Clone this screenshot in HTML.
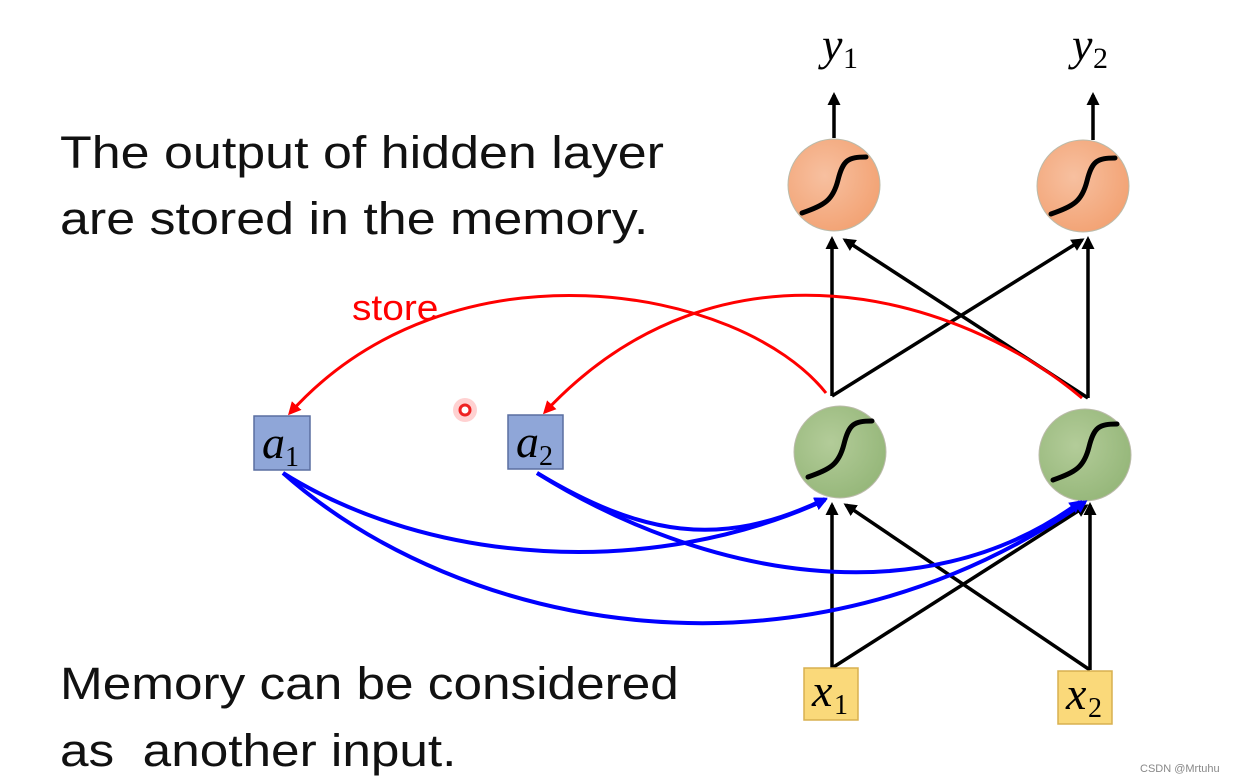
<!DOCTYPE html>
<html><head><style>
html,body{margin:0;padding:0;background:#fff;}
body{width:1234px;height:783px;position:relative;overflow:hidden;font-family:"Liberation Sans",sans-serif;}
.t{position:absolute;font-size:45px;color:#111;white-space:pre;left:60px;transform:scaleX(1.155);transform-origin:0 0;}
.b{transform:scaleX(1.14);}
</style></head><body>
<div class="t" style="top:127px">The output of hidden layer</div>
<div class="t" style="top:193px">are stored in the memory.</div>
<div class="t b" style="top:658px">Memory can be considered</div>
<div class="t b" style="top:725px">as  another input.</div>
<svg width="1234" height="783" style="position:absolute;left:0;top:0">
<defs>
<marker id="ak" markerWidth="13" markerHeight="13" refX="10" refY="6.5" orient="auto" markerUnits="userSpaceOnUse"><path d="M0,0 L13,6.5 L0,13 z" fill="#000"/></marker>
<marker id="ar" markerWidth="13" markerHeight="13" refX="10" refY="6.5" orient="auto" markerUnits="userSpaceOnUse"><path d="M0,0 L13,6.5 L0,13 z" fill="#f00"/></marker>
<marker id="ab" markerWidth="13" markerHeight="13" refX="10" refY="6.5" orient="auto" markerUnits="userSpaceOnUse"><path d="M0,0 L13,6.5 L0,13 z" fill="#00f"/></marker>
<radialGradient id="go" cx="0.4" cy="0.4" r="0.7"><stop offset="0" stop-color="#f7c0a0"/><stop offset="1" stop-color="#f2a070"/></radialGradient>
<radialGradient id="gg" cx="0.4" cy="0.4" r="0.7"><stop offset="0" stop-color="#b3cc99"/><stop offset="1" stop-color="#93b577"/></radialGradient>
</defs>
<text x="822" y="60" font-family="Liberation Serif" font-style="italic" font-size="46">y</text>
<text x="843" y="68" font-family="Liberation Serif" font-size="30">1</text>
<text x="1072" y="60" font-family="Liberation Serif" font-style="italic" font-size="46">y</text>
<text x="1093" y="68" font-family="Liberation Serif" font-size="30">2</text>
<g stroke="#000" stroke-width="3.5" fill="none" marker-end="url(#ak)">
<line x1="834" y1="138" x2="834" y2="95"/>
<line x1="1093" y1="140" x2="1093" y2="95"/>
<line x1="832" y1="396" x2="832" y2="239"/>
<line x1="832" y1="396" x2="1082" y2="240"/>
<line x1="1088" y1="398" x2="1088" y2="239"/>
<line x1="1088" y1="398" x2="845" y2="240"/>
<line x1="832" y1="668" x2="832" y2="505"/>
<line x1="832" y1="668" x2="1086" y2="506"/>
<line x1="1090" y1="670" x2="1090" y2="505"/>
<line x1="1090" y1="670" x2="846" y2="505"/>
</g>
<g stroke="#bba" stroke-width="1">
<circle cx="834" cy="185" r="46" fill="url(#go)"/>
<circle cx="1083" cy="186" r="46" fill="url(#go)"/>
<circle cx="840" cy="452" r="46" fill="url(#gg)"/>
<circle cx="1085" cy="455" r="46" fill="url(#gg)"/>
</g>
<g stroke="#000" stroke-width="5" fill="none" stroke-linecap="round">
<path d="M802,213 C825,205 833,200 838,180 C843,160 848,157 866,157"/>
<path d="M1051,214 C1074,206 1082,201 1087,181 C1092,161 1097,158 1115,158"/>
<path d="M808,477 C831,469 839,464 844,444 C849,424 854,421 872,421"/>
<path d="M1053,480 C1076,472 1084,467 1089,447 C1094,427 1099,424 1117,424"/>
</g>
<g stroke="#f00" stroke-width="3" fill="none" marker-end="url(#ar)">
<path d="M826,393 C740,285 450,235 290,413"/>
<path d="M1082,398 C960,295 720,225 545,412"/>
</g>
<text x="352" y="320" font-size="36" fill="#f00" transform="translate(352 0) scale(1.08 1) translate(-352 0)">store</text>
<circle cx="465" cy="410" r="12" fill="#f66" opacity="0.3"/>
<circle cx="465" cy="410" r="5" fill="#fff" stroke="#e22" stroke-width="3"/>
<g stroke="#00f" stroke-width="4" fill="none" marker-end="url(#ab)">
<path d="M283,473 C430,565 650,580 825,500"/>
<path d="M283,473 C460,630 800,700 1085,502"/>
<path d="M537,473 C640,535 720,550 825,499"/>
<path d="M537,473 C700,575 920,620 1080,502"/>
</g>
<rect x="254" y="416" width="56" height="54" fill="#8fa6d8" stroke="#5a6fa0" stroke-width="1.5"/>
<rect x="508" y="415" width="55" height="54" fill="#8fa6d8" stroke="#5a6fa0" stroke-width="1.5"/>
<rect x="804" y="668" width="54" height="52" fill="#fad97a" stroke="#d8b050" stroke-width="1.5"/>
<rect x="1058" y="671" width="54" height="53" fill="#fad97a" stroke="#d8b050" stroke-width="1.5"/>
<g font-family="Liberation Serif">
<text x="262" y="458" font-style="italic" font-size="46">a</text><text x="285" y="466" font-size="28">1</text>
<text x="516" y="457" font-style="italic" font-size="46">a</text><text x="539" y="465" font-size="28">2</text>
<text x="812" y="706" font-style="italic" font-size="46">x</text><text x="834" y="714" font-size="28">1</text>
<text x="1066" y="709" font-style="italic" font-size="46">x</text><text x="1088" y="717" font-size="28">2</text>
</g>
<text x="1140" y="772" font-size="11" fill="#888">CSDN @Mrtuhu</text>
</svg>
</body></html>
